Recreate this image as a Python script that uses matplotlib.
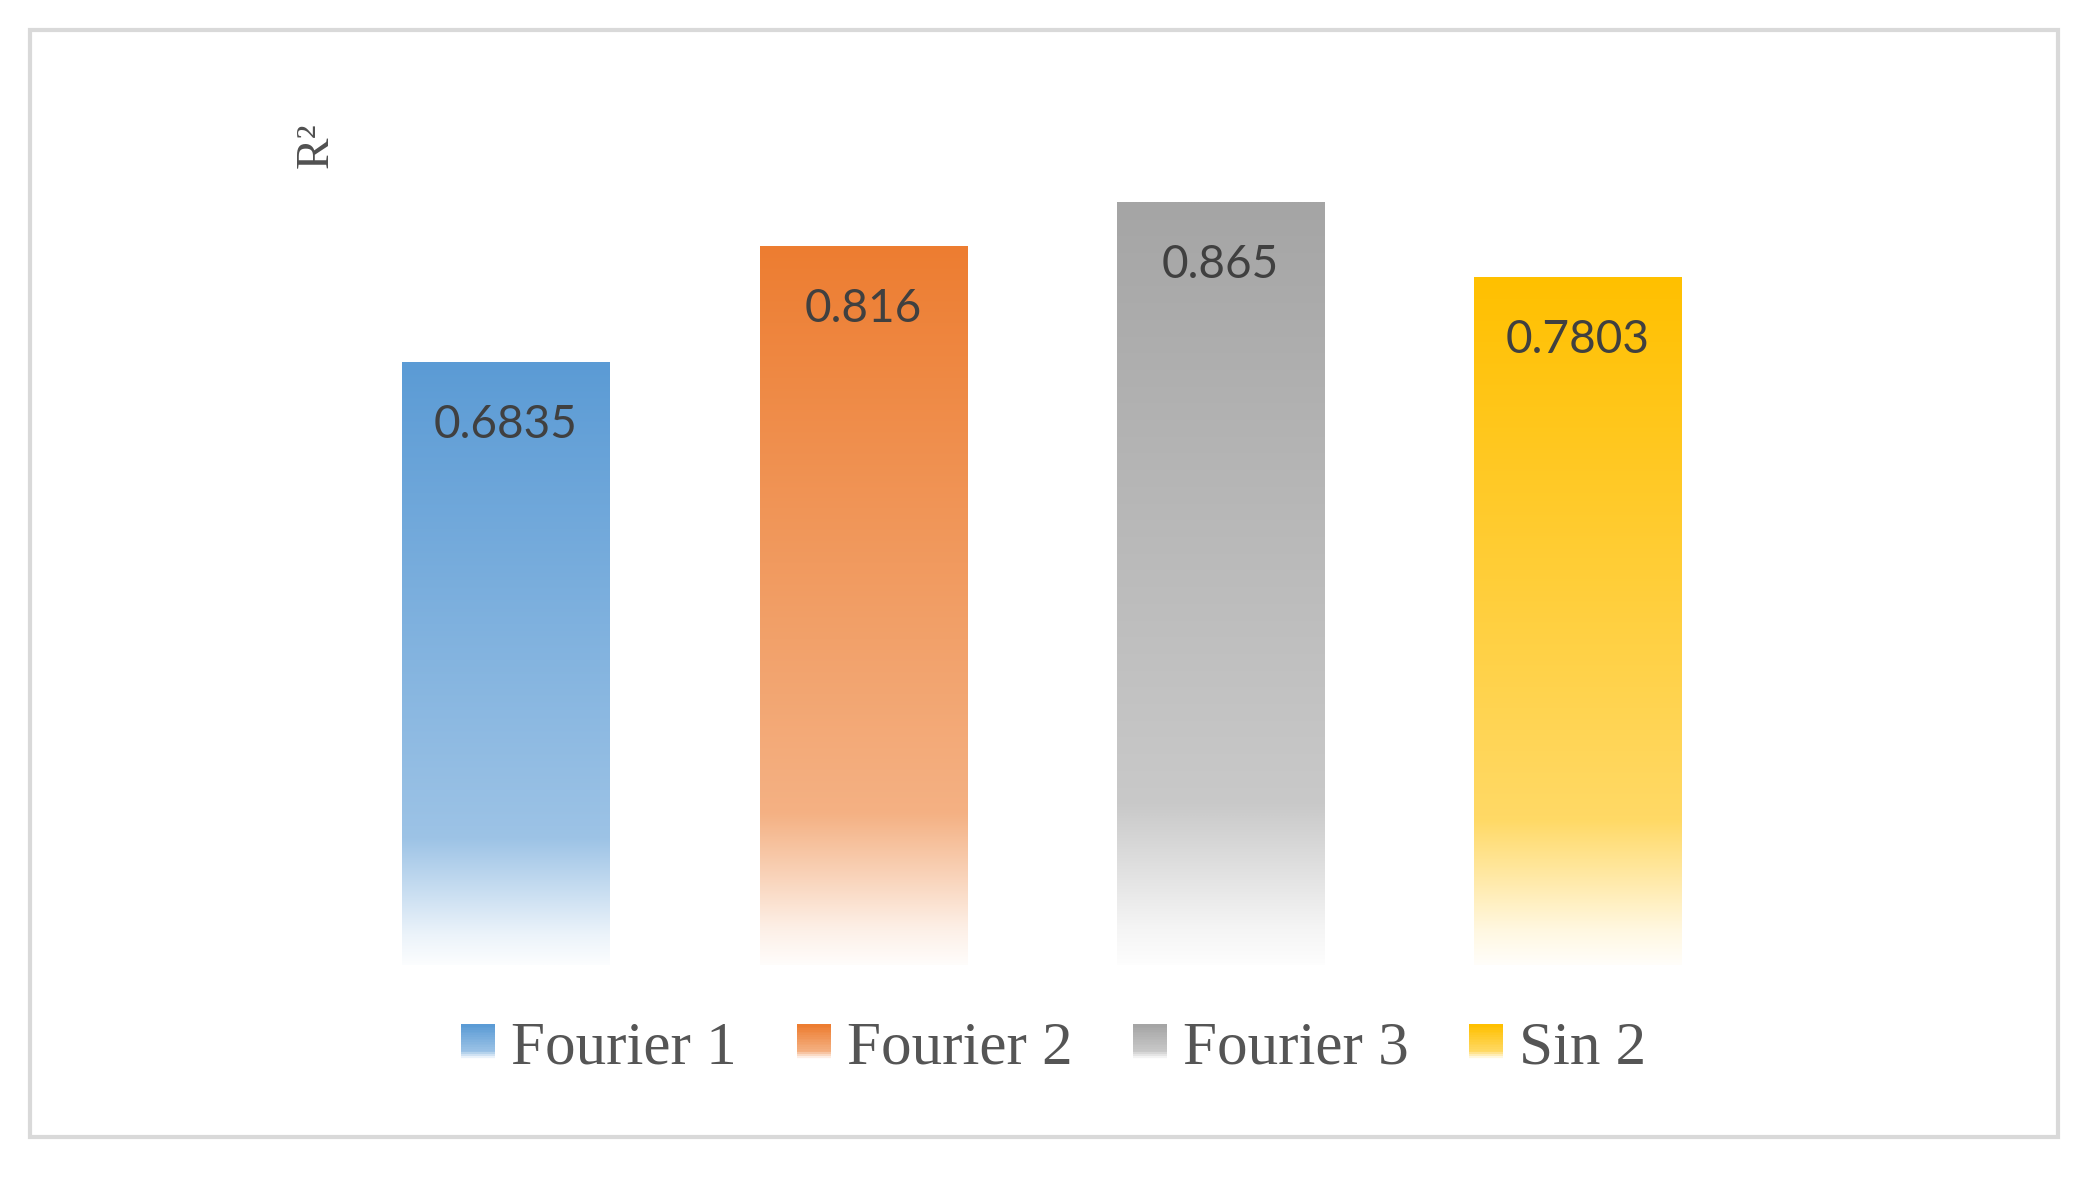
import numpy as np
import matplotlib
matplotlib.use("Agg")
import matplotlib.pyplot as plt
from matplotlib.patches import Rectangle
from matplotlib.legend_handler import HandlerBase
from matplotlib.colors import to_rgb

categories = ["Fourier 1", "Fourier 2", "Fourier 3", "Sin 2"]
values = [0.6835, 0.816, 0.865, 0.7803]
labels = ["0.6835", "0.816", "0.865", "0.7803"]
colors = ["#5B9BD5", "#ED7D31", "#A5A5A5", "#FFC000"]
ylabel = "R\u00b2"

W, H = 2081, 1179
fig = plt.figure(figsize=(W / 100, H / 100), dpi=100)
fig.patch.set_facecolor("white")

# outer frame
fig.add_artist(Rectangle((30 / W, 1 - 1137 / H), (2058 - 30) / W, (1137 - 30) / H,
                         transform=fig.transFigure, fill=False,
                         edgecolor="#D9D9D9", lw=3, zorder=0))

ax = fig.add_axes([312 / W, 214 / H, 1460 / W, 881 / H])
ax.axis("off")


def mix_profile(n):
    t = np.linspace(0, 1, n)  # 0 bottom, 1 top
    m = np.interp(t, [0.0, 0.05, 0.21, 1.0], [0.02, 0.12, 0.6, 1.0])
    return m


def grad_img(color, n=400):
    c = np.array(to_rgb(color))
    m = mix_profile(n)[:, None]
    rgb = 1 - m * (1 - c)
    return rgb[:, None, :]


x = np.arange(len(categories))
bars = ax.bar(x, values, width=0.58, color="none", edgecolor="none")
for b, col in zip(bars, colors):
    x0 = b.get_x()
    x1 = x0 + b.get_width()
    h = b.get_height()
    ax.imshow(grad_img(col), extent=[x0, x1, 0, h], origin="lower",
              aspect="auto", interpolation="bilinear", zorder=2)
ax.set_xlim(-0.543, 3.543)
ax.set_ylim(0, 1)

for xi, v, lab in zip(x, values, labels):
    ax.annotate(lab, (xi, v), xytext=(0, -45), textcoords="offset points",
                ha="center", va="center", fontsize=33, family="Lato",
                color="#404040", zorder=3)

fig.text(316 / W, 1 - 145 / H, ylabel, rotation=90, ha="center", va="center",
         fontsize=34, family="Liberation Serif", color="#505050")


class GradHandler(HandlerBase):
    def __init__(self, color):
        super().__init__()
        self.color = color

    def create_artists(self, legend, orig_handle, xdescent, ydescent, width,
                       height, fontsize, trans):
        c = np.array(to_rgb(self.color))
        n = 20
        arts = []
        m = mix_profile(n)
        for i in range(n):
            rgb = 1 - m[i] * (1 - c)
            r = Rectangle((-xdescent, -ydescent + i * height / n), width,
                          height / n + 0.3, facecolor=rgb, edgecolor="none",
                          transform=trans)
            arts.append(r)
        return arts


handles = [Rectangle((0, 0), 1, 1) for _ in categories]
hmap = {h: GradHandler(c) for h, c in zip(handles, colors)}
fig.legend(handles, categories, handler_map=hmap, loc="center",
           bbox_to_anchor=(0.5063, 1 - 1049 / H), ncol=4, frameon=False,
           prop={"family": "Liberation Serif", "size": 44},
           labelcolor="#555555", handlelength=0.55, handleheight=0.49,
           handletextpad=0.255, columnspacing=1.0)

fig.savefig("out.png", dpi=100, facecolor="white")
